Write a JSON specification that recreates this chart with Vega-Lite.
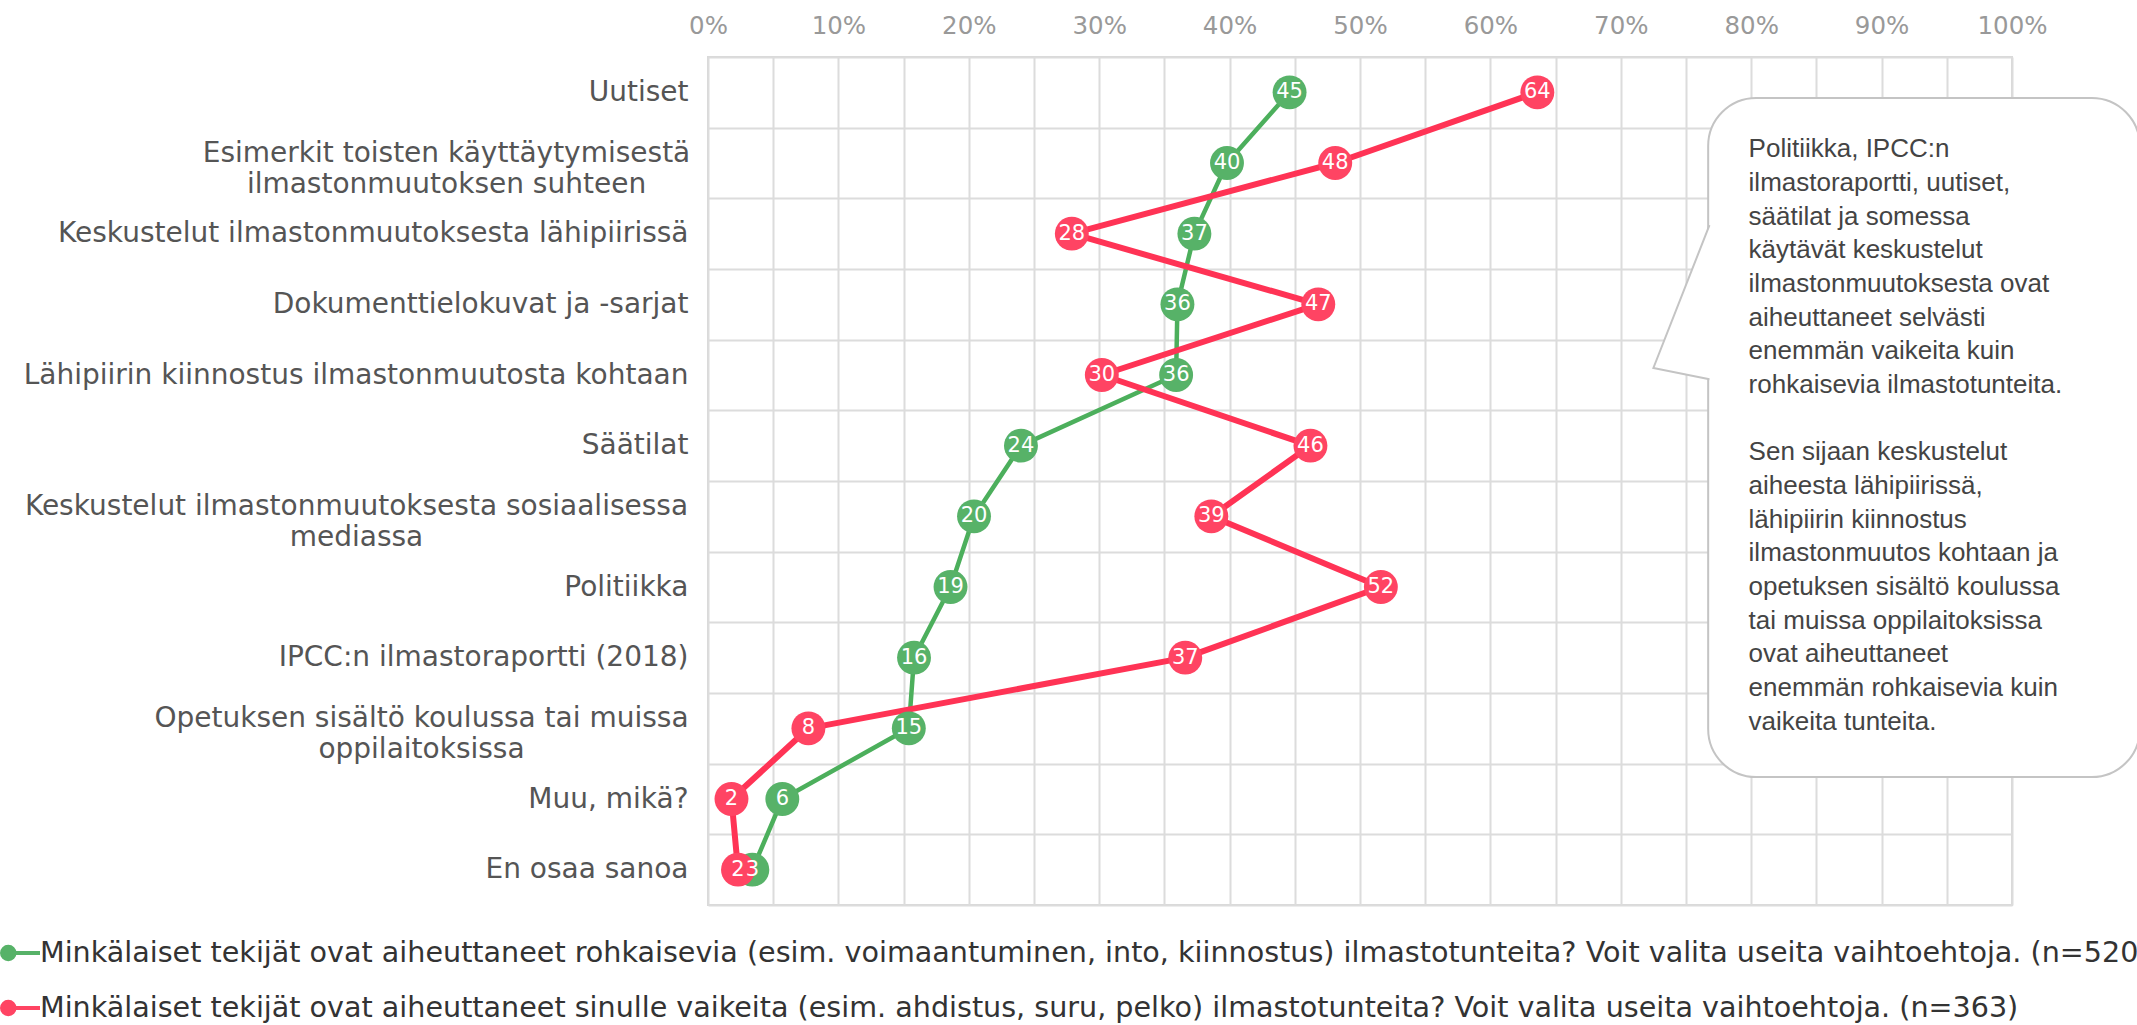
{
  "$schema": "https://vega.github.io/schema/vega-lite/v6.json",
  "width": 1304,
  "height": 848,
  "autosize": "none",
  "padding": {"left": 708, "top": 57, "right": 125, "bottom": 120},
  "background": "white",
  "config": {
    "view": {"stroke": "#d9d9d9", "strokeWidth": 2},
    "font": "DejaVu Sans"
  },
  "datasets": {
    "rows": [
      {"cat": "Uutiset", "rank": 1, "series": "Minkälaiset tekijät ovat aiheuttaneet rohkaisevia (esim. voimaantuminen, into, kiinnostus) ilmastotunteita? Voit valita useita vaihtoehtoja. (n=520)", "value": 44.6},
      {"cat": "Esimerkit toisten käyttäytymisestä ilmastonmuutoksen suhteen", "rank": 2, "series": "Minkälaiset tekijät ovat aiheuttaneet rohkaisevia (esim. voimaantuminen, into, kiinnostus) ilmastotunteita? Voit valita useita vaihtoehtoja. (n=520)", "value": 39.8},
      {"cat": "Keskustelut ilmastonmuutoksesta lähipiirissä", "rank": 3, "series": "Minkälaiset tekijät ovat aiheuttaneet rohkaisevia (esim. voimaantuminen, into, kiinnostus) ilmastotunteita? Voit valita useita vaihtoehtoja. (n=520)", "value": 37.3},
      {"cat": "Dokumenttielokuvat ja -sarjat", "rank": 4, "series": "Minkälaiset tekijät ovat aiheuttaneet rohkaisevia (esim. voimaantuminen, into, kiinnostus) ilmastotunteita? Voit valita useita vaihtoehtoja. (n=520)", "value": 36.0},
      {"cat": "Lähipiirin kiinnostus ilmastonmuutosta kohtaan", "rank": 5, "series": "Minkälaiset tekijät ovat aiheuttaneet rohkaisevia (esim. voimaantuminen, into, kiinnostus) ilmastotunteita? Voit valita useita vaihtoehtoja. (n=520)", "value": 35.9},
      {"cat": "Säätilat", "rank": 6, "series": "Minkälaiset tekijät ovat aiheuttaneet rohkaisevia (esim. voimaantuminen, into, kiinnostus) ilmastotunteita? Voit valita useita vaihtoehtoja. (n=520)", "value": 24.0},
      {"cat": "Keskustelut ilmastonmuutoksesta sosiaalisessa mediassa", "rank": 7, "series": "Minkälaiset tekijät ovat aiheuttaneet rohkaisevia (esim. voimaantuminen, into, kiinnostus) ilmastotunteita? Voit valita useita vaihtoehtoja. (n=520)", "value": 20.4},
      {"cat": "Politiikka", "rank": 8, "series": "Minkälaiset tekijät ovat aiheuttaneet rohkaisevia (esim. voimaantuminen, into, kiinnostus) ilmastotunteita? Voit valita useita vaihtoehtoja. (n=520)", "value": 18.6},
      {"cat": "IPCC:n ilmastoraportti (2018)", "rank": 9, "series": "Minkälaiset tekijät ovat aiheuttaneet rohkaisevia (esim. voimaantuminen, into, kiinnostus) ilmastotunteita? Voit valita useita vaihtoehtoja. (n=520)", "value": 15.8},
      {"cat": "Opetuksen sisältö koulussa tai muissa oppilaitoksissa", "rank": 10, "series": "Minkälaiset tekijät ovat aiheuttaneet rohkaisevia (esim. voimaantuminen, into, kiinnostus) ilmastotunteita? Voit valita useita vaihtoehtoja. (n=520)", "value": 15.4},
      {"cat": "Muu, mikä?", "rank": 11, "series": "Minkälaiset tekijät ovat aiheuttaneet rohkaisevia (esim. voimaantuminen, into, kiinnostus) ilmastotunteita? Voit valita useita vaihtoehtoja. (n=520)", "value": 5.7},
      {"cat": "En osaa sanoa", "rank": 12, "series": "Minkälaiset tekijät ovat aiheuttaneet rohkaisevia (esim. voimaantuminen, into, kiinnostus) ilmastotunteita? Voit valita useita vaihtoehtoja. (n=520)", "value": 3.4},
      {"cat": "Uutiset", "rank": 1, "series": "Minkälaiset tekijät ovat aiheuttaneet sinulle vaikeita (esim. ahdistus, suru, pelko) ilmastotunteita? Voit valita useita vaihtoehtoja. (n=363)", "value": 63.6},
      {"cat": "Esimerkit toisten käyttäytymisestä ilmastonmuutoksen suhteen", "rank": 2, "series": "Minkälaiset tekijät ovat aiheuttaneet sinulle vaikeita (esim. ahdistus, suru, pelko) ilmastotunteita? Voit valita useita vaihtoehtoja. (n=363)", "value": 48.1},
      {"cat": "Keskustelut ilmastonmuutoksesta lähipiirissä", "rank": 3, "series": "Minkälaiset tekijät ovat aiheuttaneet sinulle vaikeita (esim. ahdistus, suru, pelko) ilmastotunteita? Voit valita useita vaihtoehtoja. (n=363)", "value": 27.9},
      {"cat": "Dokumenttielokuvat ja -sarjat", "rank": 4, "series": "Minkälaiset tekijät ovat aiheuttaneet sinulle vaikeita (esim. ahdistus, suru, pelko) ilmastotunteita? Voit valita useita vaihtoehtoja. (n=363)", "value": 46.8},
      {"cat": "Lähipiirin kiinnostus ilmastonmuutosta kohtaan", "rank": 5, "series": "Minkälaiset tekijät ovat aiheuttaneet sinulle vaikeita (esim. ahdistus, suru, pelko) ilmastotunteita? Voit valita useita vaihtoehtoja. (n=363)", "value": 30.2},
      {"cat": "Säätilat", "rank": 6, "series": "Minkälaiset tekijät ovat aiheuttaneet sinulle vaikeita (esim. ahdistus, suru, pelko) ilmastotunteita? Voit valita useita vaihtoehtoja. (n=363)", "value": 46.2},
      {"cat": "Keskustelut ilmastonmuutoksesta sosiaalisessa mediassa", "rank": 7, "series": "Minkälaiset tekijät ovat aiheuttaneet sinulle vaikeita (esim. ahdistus, suru, pelko) ilmastotunteita? Voit valita useita vaihtoehtoja. (n=363)", "value": 38.6},
      {"cat": "Politiikka", "rank": 8, "series": "Minkälaiset tekijät ovat aiheuttaneet sinulle vaikeita (esim. ahdistus, suru, pelko) ilmastotunteita? Voit valita useita vaihtoehtoja. (n=363)", "value": 51.6},
      {"cat": "IPCC:n ilmastoraportti (2018)", "rank": 9, "series": "Minkälaiset tekijät ovat aiheuttaneet sinulle vaikeita (esim. ahdistus, suru, pelko) ilmastotunteita? Voit valita useita vaihtoehtoja. (n=363)", "value": 36.6},
      {"cat": "Opetuksen sisältö koulussa tai muissa oppilaitoksissa", "rank": 10, "series": "Minkälaiset tekijät ovat aiheuttaneet sinulle vaikeita (esim. ahdistus, suru, pelko) ilmastotunteita? Voit valita useita vaihtoehtoja. (n=363)", "value": 7.7},
      {"cat": "Muu, mikä?", "rank": 11, "series": "Minkälaiset tekijät ovat aiheuttaneet sinulle vaikeita (esim. ahdistus, suru, pelko) ilmastotunteita? Voit valita useita vaihtoehtoja. (n=363)", "value": 1.8},
      {"cat": "En osaa sanoa", "rank": 12, "series": "Minkälaiset tekijät ovat aiheuttaneet sinulle vaikeita (esim. ahdistus, suru, pelko) ilmastotunteita? Voit valita useita vaihtoehtoja. (n=363)", "value": 2.3}
    ],
    "pointer": [
      {"px": 76.8, "bx": 77.2, "py": 2.38},
      {"px": 72.5, "bx": 77.2, "py": 4.40},
      {"px": 76.8, "bx": 77.2, "py": 4.56}
    ],
    "note": [
      {"ty": 1.12, "txt": "Politiikka, IPCC:n\nilmastoraportti, uutiset,\nsäätilat ja somessa\nkäytävät keskustelut\nilmastonmuutoksesta ovat\naiheuttaneet selvästi\nenemmän vaikeita kuin\nrohkaisevia ilmastotunteita."},
      {"ty": 5.41, "txt": "Sen sijaan keskustelut\naiheesta lähipiirissä,\nlähipiirin kiinnostus\nilmastonmuutos kohtaan ja\nopetuksen sisältö koulussa\ntai muissa oppilaitoksissa\novat aiheuttaneet\nenemmän rohkaisevia kuin\nvaikeita tunteita."}
    ]
  },
  "resolve": {"scale": {"y": "independent"}, "axis": {"x": "independent", "y": "independent"}},
  "layer": [
    {
      "data": {"name": "rows"},
      "transform": [{"filter": "indexof(datum.series, 'rohkaisevia') >= 0"}],
      "mark": {"type": "line", "strokeCap": "round", "strokeJoin": "round", "stroke": "#4caf5c", "strokeWidth": 4.5},
      "encoding": {
        "x": {"field": "value", "type": "quantitative", "scale": {"domain": [0, 100], "nice": false},
          "axis": {"orient": "top", "title": null, "values": [0,5,10,15,20,25,30,35,40,45,50,55,60,65,70,75,80,85,90,95,100],
            "labelExpr": "datum.value % 10 === 0 ? datum.value + '%' : ''", "labelOverlap": false, "labelFlush": false,
            "labelColor": "#999999", "labelFont": "DejaVu Sans", "labelFontSize": 24.5, "labelPadding": 19,
            "ticks": false, "tickSize": 0, "domain": false, "grid": true, "gridColor": "#dcdcdc", "gridWidth": 2}},
        "y": {"field": "cat", "type": "nominal",
          "sort": ["Uutiset", "Esimerkit toisten käyttäytymisestä ilmastonmuutoksen suhteen", "Keskustelut ilmastonmuutoksesta lähipiirissä", "Dokumenttielokuvat ja -sarjat", "Lähipiirin kiinnostus ilmastonmuutosta kohtaan", "Säätilat", "Keskustelut ilmastonmuutoksesta sosiaalisessa mediassa", "Politiikka", "IPCC:n ilmastoraportti (2018)", "Opetuksen sisältö koulussa tai muissa oppilaitoksissa", "Muu, mikä?", "En osaa sanoa"],
          "scale": {"type": "band", "paddingInner": 0, "paddingOuter": 0},
          "axis": {"title": null,
            "labelExpr": "datum.value == 'Esimerkit toisten käyttäytymisestä ilmastonmuutoksen suhteen' ? ['Esimerkit toisten käyttäytymisestä', 'ilmastonmuutoksen suhteen'] : datum.value == 'Keskustelut ilmastonmuutoksesta sosiaalisessa mediassa' ? ['Keskustelut ilmastonmuutoksesta sosiaalisessa', 'mediassa'] : datum.value == 'Opetuksen sisältö koulussa tai muissa oppilaitoksissa' ? ['Opetuksen sisältö koulussa tai muissa', 'oppilaitoksissa'] : datum.value",
            "labelFont": "DejaVu Sans", "labelFontSize": 28, "labelColor": "#555555", "labelLimit": 900, "labelLineHeight": 31,
            "labelOffset": {"condition": {"test": "datum.value == 'Esimerkit toisten käyttäytymisestä ilmastonmuutoksen suhteen' || datum.value == 'Keskustelut ilmastonmuutoksesta sosiaalisessa mediassa' || datum.value == 'Opetuksen sisältö koulussa tai muissa oppilaitoksissa'", "value": -10}, "value": 0},
            "labelAlign": {"condition": {"test": "datum.value == 'Esimerkit toisten käyttäytymisestä ilmastonmuutoksen suhteen' || datum.value == 'Keskustelut ilmastonmuutoksesta sosiaalisessa mediassa' || datum.value == 'Opetuksen sisältö koulussa tai muissa oppilaitoksissa'", "value": "center"}, "value": "right"},
            "labelPadding": {"condition": [
              {"test": "datum.value == 'Esimerkit toisten käyttäytymisestä ilmastonmuutoksen suhteen'", "value": 262},
              {"test": "datum.value == 'Keskustelut ilmastonmuutoksesta sosiaalisessa mediassa'", "value": 352},
              {"test": "datum.value == 'Opetuksen sisältö koulussa tai muissa oppilaitoksissa'", "value": 287}], "value": 20},
            "ticks": false, "tickSize": 0, "domain": false, "grid": true, "tickBand": "extent", "gridColor": "#dcdcdc", "gridWidth": 2}},
        "order": {"field": "rank", "type": "quantitative"}
      }
    },
    {
      "data": {"name": "rows"},
      "transform": [{"filter": "indexof(datum.series, 'vaikeita') >= 0"}],
      "mark": {"type": "line", "strokeCap": "round", "strokeJoin": "round", "stroke": "#ff3355", "strokeWidth": 6},
      "encoding": {
        "x": {"field": "value", "type": "quantitative", "scale": {"domain": [0, 100], "nice": false}, "axis": null},
        "y": {"field": "cat", "type": "nominal",
          "sort": ["Uutiset", "Esimerkit toisten käyttäytymisestä ilmastonmuutoksen suhteen", "Keskustelut ilmastonmuutoksesta lähipiirissä", "Dokumenttielokuvat ja -sarjat", "Lähipiirin kiinnostus ilmastonmuutosta kohtaan", "Säätilat", "Keskustelut ilmastonmuutoksesta sosiaalisessa mediassa", "Politiikka", "IPCC:n ilmastoraportti (2018)", "Opetuksen sisältö koulussa tai muissa oppilaitoksissa", "Muu, mikä?", "En osaa sanoa"],
          "scale": {"type": "band", "paddingInner": 0, "paddingOuter": 0}, "axis": null},
        "order": {"field": "rank", "type": "quantitative"}
      }
    },
    {
      "data": {"name": "rows"},
      "mark": {"type": "point", "shape": "circle", "filled": true, "size": 1150, "opacity": 1},
      "encoding": {
        "x": {"field": "value", "type": "quantitative", "scale": {"domain": [0, 100], "nice": false}, "axis": null},
        "y": {"field": "cat", "type": "nominal",
          "sort": ["Uutiset", "Esimerkit toisten käyttäytymisestä ilmastonmuutoksen suhteen", "Keskustelut ilmastonmuutoksesta lähipiirissä", "Dokumenttielokuvat ja -sarjat", "Lähipiirin kiinnostus ilmastonmuutosta kohtaan", "Säätilat", "Keskustelut ilmastonmuutoksesta sosiaalisessa mediassa", "Politiikka", "IPCC:n ilmastoraportti (2018)", "Opetuksen sisältö koulussa tai muissa oppilaitoksissa", "Muu, mikä?", "En osaa sanoa"],
          "scale": {"type": "band", "paddingInner": 0, "paddingOuter": 0}, "axis": null},
        "color": {"field": "series", "type": "nominal",
          "scale": {"domain": ["Minkälaiset tekijät ovat aiheuttaneet rohkaisevia (esim. voimaantuminen, into, kiinnostus) ilmastotunteita? Voit valita useita vaihtoehtoja. (n=520)", "Minkälaiset tekijät ovat aiheuttaneet sinulle vaikeita (esim. ahdistus, suru, pelko) ilmastotunteita? Voit valita useita vaihtoehtoja. (n=363)"], "range": ["#57b268", "#ff4463"]},
          "legend": {"title": null, "orient": "none", "legendX": -708, "legendY": 875, "direction": "vertical",
            "symbolType": "M-1,0 A0.33,0.33 0 1,1 -0.34,0 A0.33,0.33 0 1,1 -1,0 M-0.34,0 L1,0",
            "symbolSize": 1444, "symbolStrokeWidth": 4, "symbolOpacity": 1,
            "labelFont": "DejaVu Sans", "labelFontSize": 28.6, "labelColor": "#333333", "labelLimit": 2300, "labelOffset": -2,
            "rowPadding": 19, "padding": 0,
            "encode": {"symbols": {"update": {"stroke": {"scale": "color", "field": "value"}, "strokeWidth": {"value": 4}}}}}}
      }
    },
    {
      "data": {"name": "rows"},
      "mark": {"type": "text", "color": "white", "font": "DejaVu Sans", "fontSize": 21, "align": "center", "baseline": "middle"},
      "encoding": {
        "x": {"field": "value", "type": "quantitative", "scale": {"domain": [0, 100], "nice": false}, "axis": null},
        "y": {"field": "cat", "type": "nominal",
          "sort": ["Uutiset", "Esimerkit toisten käyttäytymisestä ilmastonmuutoksen suhteen", "Keskustelut ilmastonmuutoksesta lähipiirissä", "Dokumenttielokuvat ja -sarjat", "Lähipiirin kiinnostus ilmastonmuutosta kohtaan", "Säätilat", "Keskustelut ilmastonmuutoksesta sosiaalisessa mediassa", "Politiikka", "IPCC:n ilmastoraportti (2018)", "Opetuksen sisältö koulussa tai muissa oppilaitoksissa", "Muu, mikä?", "En osaa sanoa"],
          "scale": {"type": "band", "paddingInner": 0, "paddingOuter": 0}, "axis": null},
        "text": {"field": "value", "type": "quantitative", "format": ".0f"}
      }
    },
    {
      "data": {"values": [{}]},
      "mark": {"type": "rect", "fill": "white", "stroke": "#c4c4c4", "strokeWidth": 2, "cornerRadius": 48},
      "encoding": {
        "x": {"datum": 76.7, "type": "quantitative", "scale": {"domain": [0, 100], "nice": false}, "axis": null},
        "x2": {"datum": 109.8},
        "y": {"datum": 0.58, "type": "quantitative", "scale": {"domain": [0, 12], "nice": false, "zero": false, "reverse": true}, "axis": null},
        "y2": {"datum": 10.19}
      }
    },
    {
      "data": {"name": "pointer"},
      "mark": {"type": "area", "orient": "horizontal", "fill": "white", "opacity": 1},
      "encoding": {
        "x": {"field": "px", "type": "quantitative", "scale": {"domain": [0, 100], "nice": false}, "axis": null},
        "x2": {"field": "bx"},
        "y": {"field": "py", "type": "quantitative", "scale": {"domain": [0, 12], "nice": false, "zero": false, "reverse": true}, "axis": null}
      }
    },
    {
      "data": {"name": "pointer"},
      "mark": {"type": "line", "stroke": "#c4c4c4", "strokeWidth": 2},
      "encoding": {
        "x": {"field": "px", "type": "quantitative", "scale": {"domain": [0, 100], "nice": false}, "axis": null},
        "y": {"field": "py", "type": "quantitative", "scale": {"domain": [0, 12], "nice": false, "zero": false, "reverse": true}, "axis": null},
        "order": {"field": "py", "type": "quantitative"}
      }
    },
    {
      "data": {"name": "note"},
      "mark": {"type": "text", "align": "left", "baseline": "top", "lineBreak": "\n", "lineHeight": 33.7, "font": "Liberation Sans", "fontSize": 26, "color": "#444444"},
      "encoding": {
        "x": {"datum": 79.8, "type": "quantitative", "scale": {"domain": [0, 100], "nice": false}, "axis": null},
        "y": {"field": "ty", "type": "quantitative", "scale": {"domain": [0, 12], "nice": false, "zero": false, "reverse": true}, "axis": null},
        "text": {"field": "txt", "type": "nominal"}
      }
    }
  ]
}
